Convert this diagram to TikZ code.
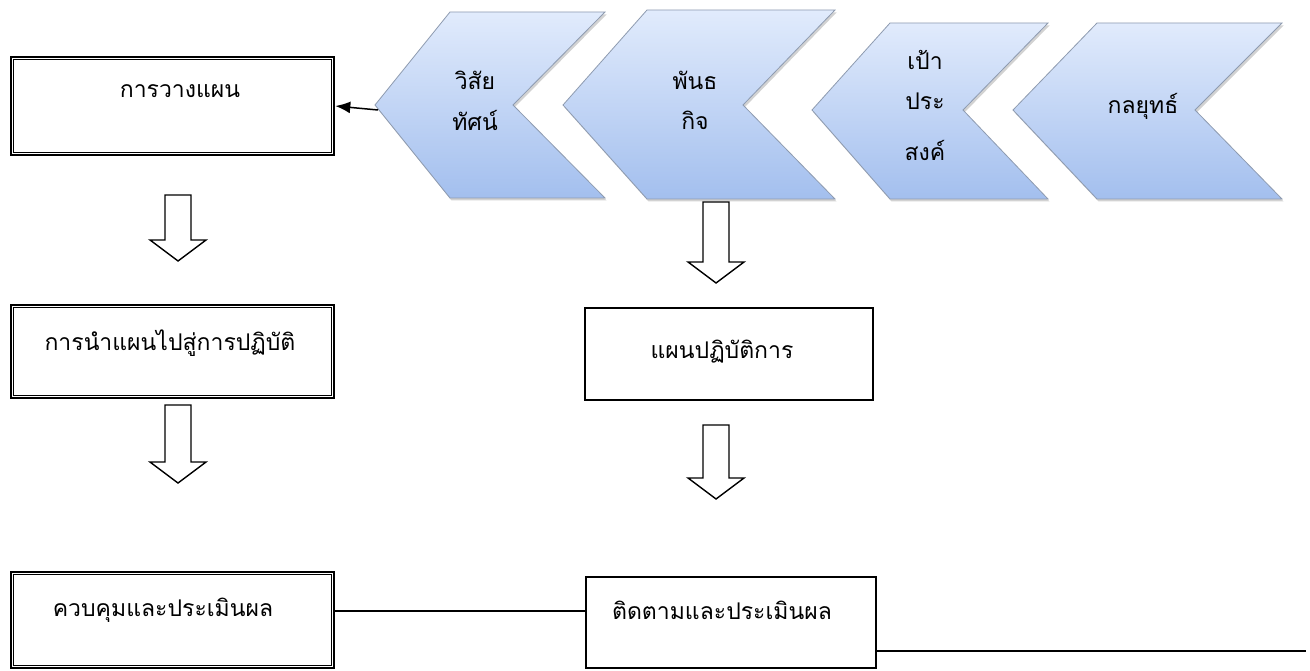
\documentclass[tikz,border=0pt]{standalone}
\usepackage{fontspec}
\newfontfamily\thai[Script=Thai]{Loma}
\usetikzlibrary{shadows,arrows.meta}
\definecolor{chevtop}{HTML}{E1EBFC}
\definecolor{chevbot}{HTML}{A3BFEE}
\definecolor{chevline}{HTML}{8E9BB0}
\newcommand\blockarr[3]{%
  \draw[barrow] (#1-13,#2) -- (#1+13,#2) -- (#1+13,#2+#3) -- (#1+28,#2+#3) -- (#1,#2+#3+21) -- (#1-28,#2+#3) -- (#1-13,#2+#3) -- cycle;}
\tikzset{
  dbox/.style={draw, line width=2.6pt, inner sep=0pt},
  dinner/.style={draw, line width=1.2pt},
  sbox/.style={draw, line width=1.4pt, inner sep=0pt},
  lbl/.style={font=\thai\fontsize{23}{28}\selectfont, inner sep=0pt},
  chev/.style={top color=chevtop, bottom color=chevbot, draw=chevline, line width=0.8pt,
    drop shadow={opacity=0.35, shadow xshift=1.5pt, shadow yshift=-2.5pt}},
  barrow/.style={draw, line width=1.4pt, fill=white, line join=miter},
  conn/.style={line width=1.5pt}
}
\begin{document}
\begin{tikzpicture}[x=1pt,y=-1pt]
\useasboundingbox[fill=white] (0,0) rectangle (1310,671);

% chevrons (drawn right to left so left ones are on top)
\path[chev] (1013,110) -- (1097,23) -- (1282,23) -- (1195,110) -- (1282,199) -- (1097,199) -- cycle;
\path[chev] (812,110) -- (890,23) -- (1048,23) -- (963,110) -- (1048,199) -- (890,199) -- cycle;
\path[chev] (563,105) -- (647,10) -- (835,10) -- (743,105) -- (835,199) -- (647,199) -- cycle;
\path[chev] (375,105) -- (450,12) -- (605,12) -- (513,105) -- (605,198) -- (450,198) -- cycle;

\node[lbl] (v1) at (475,80) {วิสัย};
\node[lbl] (v2) at (475,120) {ทัศน์};
\node[lbl] (m1) at (695,80) {พันธ};
\node[lbl] (m2) at (695,120) {กิจ};
\node[lbl] (g1) at (925,60) {เป้า};
\node[lbl] (g2) at (925,101) {ประ};
\node[lbl] (g3) at (925,150) {สงค์};
\node[lbl] (s1) at (1143,106) {กลยุทธ์};

% left column
\node[dbox, minimum width=323pt, minimum height=98pt] (b1) at (172.5,106) {};
\node[lbl] (t1) at (180,91) {การวางแผน};
\node[dbox, minimum width=323pt, minimum height=93pt] (b2) at (172.5,351.5) {};
\node[lbl] (t2) at (170,343) {การนำแผนไปสู่การปฏิบัติ};
\node[dbox, minimum width=323pt, minimum height=96pt] (b3) at (172.5,620) {};
\node[lbl] (t3) at (163,610) {ควบคุมและประเมินผล};
\foreach \b in {b1,b2,b3}
  \draw[dinner] ([shift={(4pt,-4pt)}]\b.north west) rectangle ([shift={(-4pt,4pt)}]\b.south east);

% right column
\node[sbox, minimum width=288pt, minimum height=92pt] (p1) at (729,354) {};
\node[lbl] (t4) at (722,352) {แผนปฏิบัติการ};
\node[sbox, minimum width=290pt, minimum height=91pt] (b4) at (731,622.5) {};
\node[lbl] (t5) at (722,610) {ติดตามและประเมินผล};

% block arrows
\blockarr{178}{195}{45}
\blockarr{178}{405}{57}
\blockarr{716}{202}{60}
\blockarr{716}{425}{53}

% connectors
\coordinate (a0) at (378,110);
\draw[conn, -{Latex[length=15pt,width=12pt]}] (a0) -- (b1.east);
\coordinate (lmid) at (400,611);
\draw[conn] (lmid -| b3.east) -- (lmid -| b4.west);
\coordinate (lend) at (1306,651);
\draw[conn] (lend -| b4.east) -- (lend);
\end{tikzpicture}
\end{document}
